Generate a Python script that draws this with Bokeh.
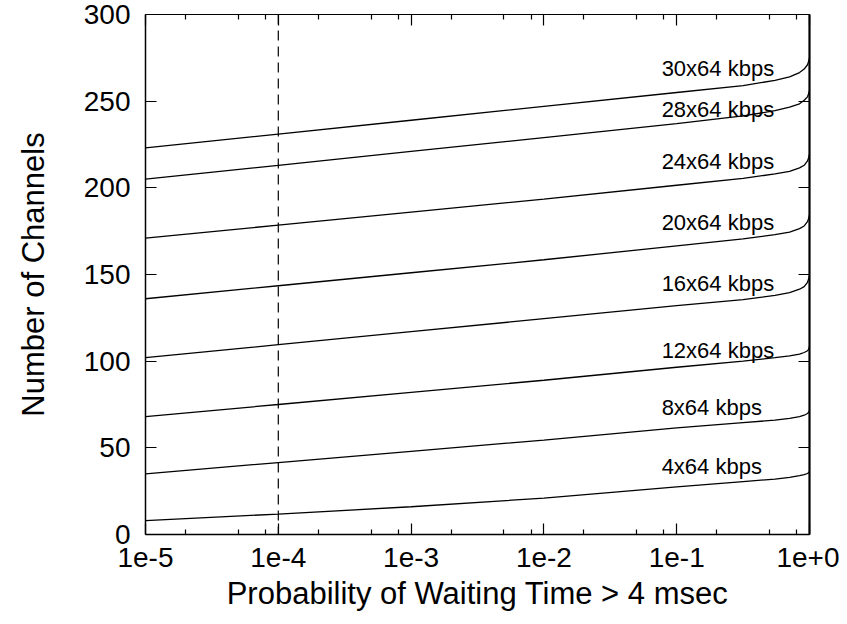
from bokeh.plotting import figure
from bokeh.models import (Range1d, FixedTicker, LinearAxis, LogAxis, Span, LogScale,
                          CustomJSTickFormatter, ColumnDataSource, LabelSet)
from bokeh.core.properties import value
from bokeh.embed import file_html
from bokeh.resources import INLINE

# ---- data (log10 of probability, channels) ----
log_p = [-5, -4, -3, -2, -1, -0.5, -0.26, -0.15, -0.075, -0.04, -0.015, -0.006, 0]
series = {
    "30x64 kbps": [223, 231, 239, 247, 255, 259, 262, 264, 266.5, 268.5, 271, 273, 275],
    "28x64 kbps": [205, 213, 221, 229, 237, 241.5, 244.5, 246.5, 248.5, 250.5, 252.5, 254.5, 256],
    "24x64 kbps": [171, 178.5, 186, 193.5, 201.5, 205.5, 208, 209.5, 211.5, 213, 215.5, 217.5, 219.5],
    "20x64 kbps": [136, 143.5, 151, 158.5, 166.5, 170.5, 173, 174.5, 176.5, 178, 180.5, 182.5, 184.5],
    "16x64 kbps": [102, 109.5, 117, 124.5, 132, 135.5, 138, 139.5, 141.5, 143, 145.5, 147.5, 149.5],
    "12x64 kbps": [68, 75, 82, 89, 96.5, 100, 102, 103, 104, 105, 106, 107, 108.5],
    "8x64 kbps": [35, 41.5, 48, 54.5, 61.5, 64.5, 66, 67, 68, 68.8, 69.8, 70.5, 71.5],
    "4x64 kbps": [8, 11.8, 16, 21, 27.5, 30.5, 32, 33, 34, 34.5, 35.2, 35.7, 36.5],
}
label_names = list(series.keys())
label_x = [0.077] * len(label_names)
label_y = [269, 245, 215, 180, 145, 106, 73, 39]

x_major = [1e-5, 1e-4, 1e-3, 1e-2, 1e-1, 1e0]
x_minor = [m * d for d in [1e-5, 1e-4, 1e-3, 1e-2, 1e-1] for m in (2, 5, 8)]
y_major = [0, 50, 100, 150, 200, 250, 300]
dashed_x = 1e-4

FONT = "Liberation Sans"

p = figure(width=839, height=616, x_axis_type=None, y_axis_type=None,
           x_range=Range1d(1e-5, 1), y_range=Range1d(0, 300),
           output_backend="svg", toolbar_location=None,
           min_border_left=145, min_border_right=30,
           min_border_top=14, min_border_bottom=82)
p.x_scale = LogScale()
p.background_fill_color = "white"
p.border_fill_color = "white"
p.outline_line_color = None

xt = FixedTicker(ticks=x_major, minor_ticks=x_minor)
yt = FixedTicker(ticks=y_major)
fmt = CustomJSTickFormatter(code="""
const e = Math.round(Math.log10(tick));
return "1e" + (e >= 0 ? "+" : "") + e;
""")

def style(ax, labels=True, minor=True, lw=1.5):
    ax.axis_line_color = "black"
    ax.axis_line_width = lw
    ax.major_tick_in = 11
    ax.major_tick_out = 0
    ax.major_tick_line_width = 1.2
    ax.major_tick_line_color = "black"
    if minor:
        ax.minor_tick_in = 5
        ax.minor_tick_out = 0
        ax.minor_tick_line_width = 1.2
        ax.minor_tick_line_color = "black"
    else:
        ax.minor_tick_line_color = None
    if labels:
        ax.major_label_text_font = FONT
        ax.major_label_text_font_size = "28px"
        ax.major_label_text_color = "black"
        ax.axis_label_text_font = FONT
        ax.axis_label_text_font_size = "31px"
        ax.axis_label_text_font_style = "normal"
        ax.axis_label_text_color = "black"
    else:
        ax.major_label_text_font_size = "0px"
        ax.major_label_text_color = None

xb = LogAxis(ticker=xt, formatter=fmt, axis_label="Probability of Waiting Time > 4 msec")
style(xb)
xb.major_label_standoff = 13
xb.axis_label_standoff = 6
p.add_layout(xb, "below")

xtop = LogAxis(ticker=xt, formatter=fmt)
style(xtop, labels=False, lw=1.2)
p.add_layout(xtop, "above")

yl = LinearAxis(ticker=yt, axis_label="Number of Channels")
style(yl, minor=False)
yl.major_label_standoff = 15
yl.axis_label_standoff = 30
p.add_layout(yl, "left")

yr = LinearAxis(ticker=yt)
style(yr, labels=False, minor=False, lw=2.2)
p.add_layout(yr, "right")

xs = [10 ** v for v in log_p]
for name, vals in series.items():
    p.line(xs, vals, line_color="black", line_width=1.3)

p.add_layout(Span(location=dashed_x, dimension="height", line_color="black",
                  line_width=1.2, line_dash="10 6"))

src = ColumnDataSource(dict(x=label_x, y=label_y, t=label_names))
p.add_layout(LabelSet(x="x", y="y", text="t", source=src,
                      text_font=value(FONT), text_font_size=value("22px"),
                      text_baseline="middle", text_align="left",
                      text_color="black"))

open("out.html", "w").write(file_html(p, INLINE))
